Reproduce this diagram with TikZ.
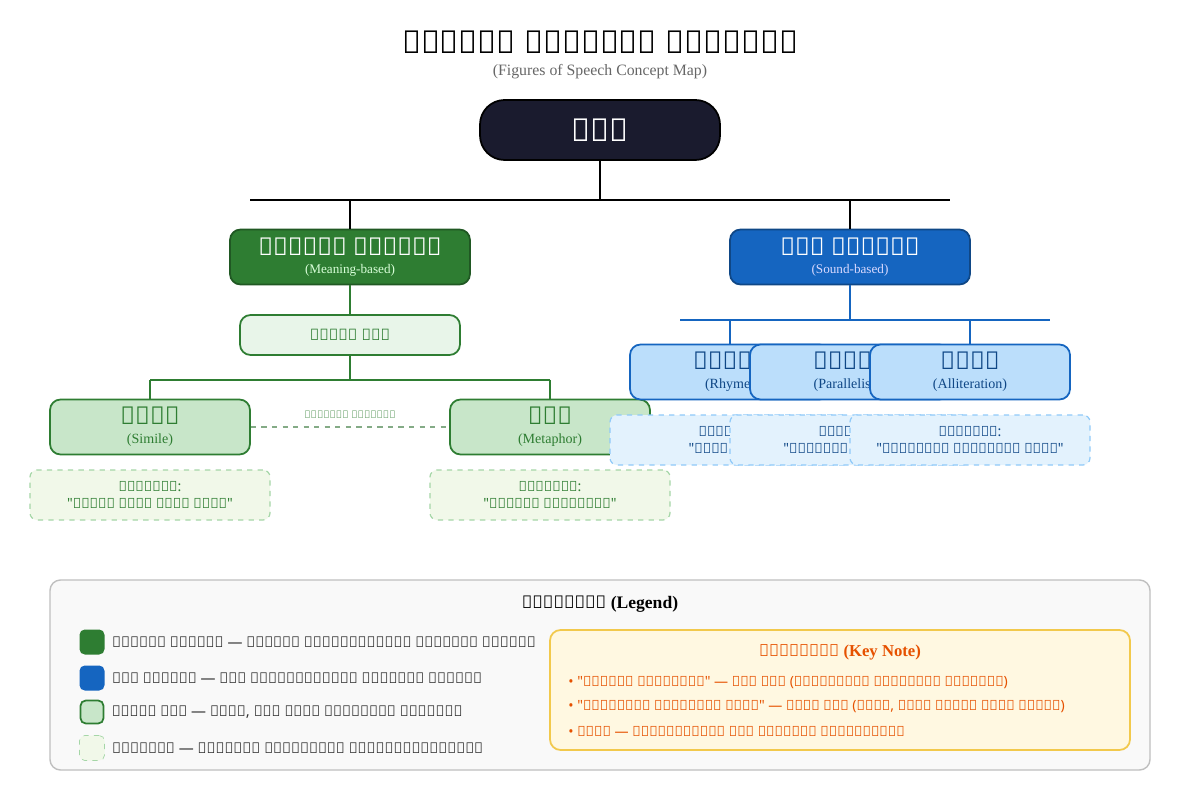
\documentclass[tikz,border=0pt]{standalone}
\usepackage{fontspec}
\setmainfont{Liberation Serif}
\newfontfamily\tamil{Noto Sans}
\usetikzlibrary{positioning}
\definecolor{rootbg}{HTML}{1A1B2E}
\definecolor{mgreen}{HTML}{2E7D32}
\definecolor{lgreen}{HTML}{C8E6C9}
\definecolor{pgreen}{HTML}{E8F5E9}
\definecolor{egreen}{HTML}{F1F8E9}
\definecolor{dgreen}{HTML}{A5D6A7}
\definecolor{mblue}{HTML}{1565C0}
\definecolor{lblue}{HTML}{BBDEFB}
\definecolor{eblue}{HTML}{E3F2FD}
\definecolor{dblue}{HTML}{90CAF9}
\definecolor{noteo}{HTML}{E65100}
\definecolor{notebg}{HTML}{FFF8E1}
\definecolor{notebd}{HTML}{F2C94C}
\tikzset{
  sz/.style 2 args={minimum width=#1*0.02cm, minimum height=#2*0.02cm},
  box/.style={rounded corners=6, line width=1pt, inner sep=0pt, align=center},
  greenline/.style={mgreen, line width=0.9pt},
  blueline/.style={mblue, line width=0.9pt},
  ex/.style={rounded corners=4, dashed, line width=0.7pt, align=center, inner sep=0pt, font=\tamil\fontsize{8}{10}\selectfont}
}
\begin{document}
\begin{tikzpicture}[x=0.02cm,y=-0.02cm]
\useasboundingbox[fill=white] (0,0) rectangle (1200,800);
\clip (0,0) rectangle (1200,800);
% title
\node (title) at (600,42) {\tamil\bfseries\fontsize{18}{20}\selectfont அணிகள் கருத்து வரைபடம்};
\node[gray!80!black] (sub) at (600,72) {\fontsize{9}{11}\selectfont (Figures of Speech Concept Map)};
% root
\node[box, sz={240}{60}, fill=rootbg, draw=black, rounded corners=14, text=white] (root) at (600,130) {\tamil\bfseries\fontsize{18}{20}\selectfont அணி};
\coordinate (hub) at (600,200);
\coordinate (hl) at (250,200);
\coordinate (hr) at (950,200);
\coordinate (tl) at (350,200);
\coordinate (tr) at (850,200);
\draw[line width=0.9pt] (root.south) -- (hub) (hl) -- (hr);
% main branches
\node[box, sz={240}{55}, fill=mgreen, draw=mgreen!70!black, text=white] (porul) at (350,257) {\tamil\bfseries\fontsize{14}{15}\selectfont பொருள் அணிகள்\\[-2pt]\rmfamily\mdseries\fontsize{7.5}{9}\selectfont\color{white!85!green}(Meaning-based)};
\node[box, sz={240}{55}, fill=mblue, draw=mblue!70!black, text=white] (oli) at (850,257) {\tamil\bfseries\fontsize{14}{15}\selectfont ஒலி அணிகள்\\[-2pt]\rmfamily\mdseries\fontsize{7.5}{9}\selectfont\color{white!85!blue}(Sound-based)};
\draw[line width=0.9pt] (tl) -- (porul.north) (tr) -- (oli.north);
% meaning side
\node[box, sz={220}{40}, fill=pgreen, draw=mgreen, text=mgreen] (upamana) at (350,335) {\tamil\bfseries\fontsize{9}{11}\selectfont உபமான வகை};
\coordinate (gl) at (150,380);
\coordinate (gr) at (550,380);
\coordinate (gm) at (350,380);
\draw[greenline] (porul.south) -- (upamana.north) (upamana.south) -- (gm) (gl) -- (gr);
\node[box, sz={200}{55}, fill=lgreen, draw=mgreen, text=mgreen] (uvamai) at (150,427) {\tamil\bfseries\fontsize{14}{15}\selectfont உவமை\\[-1pt]\rmfamily\mdseries\fontsize{8}{9}\selectfont(Simile)};
\node[box, sz={200}{55}, fill=lgreen, draw=mgreen, text=mgreen] (umai) at (550,427) {\tamil\bfseries\fontsize{14}{15}\selectfont உமை\\[-1pt]\rmfamily\mdseries\fontsize{8}{9}\selectfont(Metaphor)};
\draw[greenline] (gl) -- (uvamai.north) (gr) -- (umai.north);
\draw[dgreen!80!black, dashed, line width=0.7pt] (uvamai.east) -- node[above, text=mgreen!70, font=\tamil\fontsize{6}{7}\selectfont, yshift=1pt] {உபமானம் தொடர்பு} (umai.west);
\node[ex, sz={240}{50}, fill=egreen, draw=dgreen, text=mgreen] (exuvamai) at (150,495) {உதாரணம்:\\"முகம் மலர் போல் அழகு"};
\node[ex, sz={240}{50}, fill=egreen, draw=dgreen, text=mgreen] (exumai) at (550,495) {உதாரணம்:\\"கண்கள் மலர்ந்தன"};
% sound side
\coordinate (bl) at (680,320);
\coordinate (br) at (1050,320);
\coordinate (b1) at (730,320);
\coordinate (b2) at (850,320);
\coordinate (b3) at (970,320);
\draw[blueline] (oli.south) -- (b2) (bl) -- (br) (b1) -- (730,345) (b3) -- (970,345);
\node[box, sz={200}{55}, fill=lblue, draw=mblue, text=mblue!70!black] (iyaibu) at (730,372) {\tamil\bfseries\fontsize{14}{15}\selectfont இயைபு\\[-1pt]\rmfamily\mdseries\fontsize{8}{9}\selectfont(Rhyme)};
\node[box, sz={200}{55}, fill=lblue, draw=mblue, text=mblue!70!black] (ethugai) at (850,372) {\tamil\bfseries\fontsize{14}{15}\selectfont எதுகை\\[-1pt]\rmfamily\mdseries\fontsize{8}{9}\selectfont(Parallelism)};
\node[box, sz={200}{55}, fill=lblue, draw=mblue, text=mblue!70!black] (monai) at (970,372) {\tamil\bfseries\fontsize{14}{15}\selectfont மோனை\\[-1pt]\rmfamily\mdseries\fontsize{8}{9}\selectfont(Alliteration)};
\node[ex, sz={240}{50}, fill=eblue, draw=dblue, text=mblue!70!black] (exiyaibu) at (730,440) {உதாரணம்:\\"காலை மாலை"};
\node[ex, sz={240}{50}, fill=eblue, draw=dblue, text=mblue!70!black] (exethugai) at (850,440) {உதாரணம்:\\"கற்றவர் கற்றவர்"};
\node[ex, sz={240}{50}, fill=eblue, draw=dblue, text=mblue!70!black] (exmonai) at (970,440) {உதாரணம்:\\"கன்னியர் கன்னியர் போல்"};
% legend
\node[rounded corners=6, sz={1100}{190}, fill=gray!5, draw=gray!50, line width=0.8pt, inner sep=0pt] (legend) at (600,675) {};
\node (legtitle) at (600,604) {\tamil\bfseries\fontsize{10}{12}\selectfont விளக்கம் \rmfamily(Legend)};
\node[rounded corners=3, sz={25}{25}, fill=mgreen, inner sep=0pt] (sq1) at (92,642) {};
\node[rounded corners=3, sz={25}{25}, fill=mblue, inner sep=0pt] (sq2) at (92,678) {};
\node[rounded corners=3, sz={23}{23}, fill=lgreen, draw=mgreen, line width=1pt, inner sep=0pt] (sq3) at (92,712) {};
\node[rounded corners=3, sz={25}{25}, fill=egreen, draw=dgreen, dashed, inner sep=0pt] (sq4) at (92,748) {};
\tikzset{legtext/.style={right=4pt, inner sep=0pt, font=\tamil\fontsize{8.5}{10}\selectfont, text=black!80}}
\node[legtext] at (sq1.east) {பொருள் அணிகள் — பொருள் அடிப்படையில் அமையும் அணிகள்};
\node[legtext] at (sq2.east) {ஒலி அணிகள் — ஒலி அடிப்படையில் அமையும் அணிகள்};
\node[legtext] at (sq3.east) {உபமான வகை — உவமை, உமை ஆகிய இரண்டும் ஒப்பீடு};
\node[legtext] at (sq4.east) {உதாரணம் — ஒவ்வொரு அணிக்கும் எடுத்துக்காட்டு};
% key note
\node[rounded corners=6, sz={580}{120}, fill=notebg, draw=notebd, line width=1pt, inner sep=0pt] (note) at (840,690) {};
\node[text=noteo] (notetitle) at (840,652) {\tamil\bfseries\fontsize{9.5}{11}\selectfont குறிப்பு \rmfamily(Key Note)};
\tikzset{notetext/.style={anchor=west, inner sep=0pt, text=noteo, font=\tamil\fontsize{8}{10}\selectfont}}
\node[notetext] at (568,683) {• "கண்கள் மலர்ந்தன" — உமை அணி (உவமெச்சம் இல்லாமல் ஒப்பீடு)};
\node[notetext] at (568,707) {• "கன்னியர் கன்னியர் போல்" — உவமை அணி (போல், புனை போன்ற உவமை உருபு)};
\node[notetext] at (568,731) {• மோனை — முதலெழுத்து ஒரே ஒலியில் தொடங்குதல்};
\end{tikzpicture}
\end{document}
